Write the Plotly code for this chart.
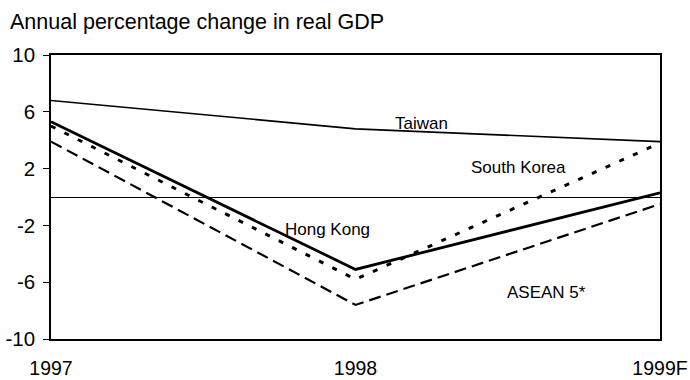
import plotly.graph_objects as go

# Real GDP growth, % change on previous year
years = ["1997", "1998", "1999F"]
taiwan = [6.8, 4.8, 3.9]
hong_kong = [5.3, -5.1, 0.3]
south_korea = [5.0, -5.8, 3.8]
asean5 = [3.9, -7.6, -0.5]

y_ticks = [10, 6, 2, -2, -6, -10]

x_pos = list(range(len(years)))

FONT = "Liberation Sans, Arial"

fig = go.Figure()

series = [
    ("Taiwan", taiwan, dict(color="black", width=1.6, dash="solid")),
    ("Hong Kong", hong_kong, dict(color="black", width=2.8, dash="solid")),
    ("South Korea", south_korea, dict(color="black", width=3, dash="5px,10px")),
    ("ASEAN 5*", asean5, dict(color="black", width=2.2, dash="12px,6px")),
]
for name, vals, line in series:
    fig.add_trace(go.Scatter(x=x_pos, y=vals, mode="lines", name=name,
                             line=line, showlegend=False, hoverinfo="skip",
                             cliponaxis=False))

# Series labels placed next to their lines
labels = [
    ("Taiwan", 1.217, 5.21),
    ("South Korea", 1.535, 2.11),
    ("Hong Kong", 0.908, -2.32),
    ("ASEAN 5*", 1.627, -6.69),
]
for text, x, y in labels:
    fig.add_annotation(x=x, y=y, text=text, showarrow=False,
                       xanchor="center", yanchor="middle",
                       font=dict(family=FONT, size=17, color="black"))

fig.add_annotation(xref="paper", yref="paper", x=-43 / 609, y=1 + 33 / 284,
                   text="Annual percentage change in real GDP", showarrow=False,
                   xanchor="left", yanchor="middle",
                   font=dict(family=FONT, size=21.5, color="black"))

fig.update_layout(
    width=690, height=380,
    margin=dict(l=51, r=30, t=55, b=41),
    paper_bgcolor="white", plot_bgcolor="white",
    font=dict(family=FONT, color="black"),
)
fig.update_xaxes(
    range=[0, 2], tickvals=x_pos, ticktext=years, automargin=False,
    showgrid=False, zeroline=False, ticks="",
    showline=True, linecolor="black", linewidth=1.5, mirror=True,
    tickfont=dict(size=19.5), ticklabelstandoff=11,
)
fig.update_yaxes(
    range=[-10, 10], tickvals=y_ticks, ticktext=[str(v) for v in y_ticks],
    automargin=False,
    showgrid=False, zeroline=True, zerolinecolor="black", zerolinewidth=1,
    ticks="outside", ticklen=6, tickcolor="black", tickwidth=1,
    showline=True, linecolor="black", linewidth=1.5, mirror=True,
    tickfont=dict(size=20.5), ticklabelstandoff=4,
)

fig.write_html("out.html")
